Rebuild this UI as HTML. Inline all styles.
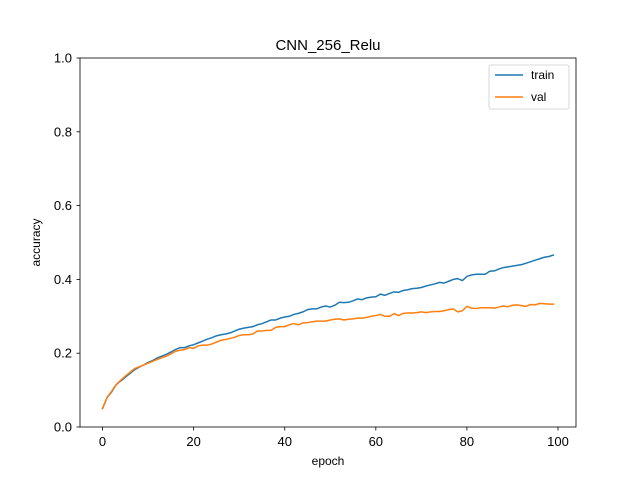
<!DOCTYPE html>
<html><head><meta charset="utf-8"><style>body{margin:0;background:#fff}svg{font-family:"Liberation Sans","DejaVu Sans",sans-serif}</style></head>
<body>
<svg id="chart" width="640" height="480" viewBox="0 0 640 480">
<rect x="0" y="0" width="640" height="480" fill="#fff"/>
<g id="plot"></g>
</svg>
<script>
const epochs = Array.from({length:100},(_,i)=>i);
const trainAcc = [0.05,0.08,0.095,0.115,0.125,0.135,0.145,0.155,0.162,0.168,0.175,0.18,0.187,0.192,0.197,0.203,0.21,0.215,0.215,0.22,0.223,0.228,0.233,0.238,0.242,0.247,0.25,0.252,0.255,0.26,0.265,0.268,0.27,0.272,0.277,0.28,0.285,0.29,0.29,0.295,0.298,0.3,0.305,0.308,0.312,0.318,0.32,0.32,0.325,0.328,0.325,0.33,0.338,0.337,0.338,0.342,0.347,0.345,0.35,0.352,0.353,0.36,0.357,0.362,0.366,0.365,0.37,0.372,0.375,0.376,0.378,0.382,0.385,0.388,0.392,0.39,0.395,0.4,0.402,0.397,0.408,0.412,0.414,0.414,0.414,0.422,0.423,0.428,0.432,0.434,0.436,0.438,0.44,0.444,0.448,0.452,0.456,0.46,0.462,0.466];
const valAcc = [0.05,0.08,0.097,0.115,0.127,0.138,0.148,0.158,0.163,0.168,0.173,0.178,0.183,0.188,0.192,0.198,0.205,0.208,0.21,0.215,0.213,0.22,0.222,0.222,0.225,0.23,0.235,0.237,0.24,0.243,0.248,0.25,0.25,0.252,0.26,0.26,0.262,0.262,0.27,0.272,0.272,0.277,0.28,0.277,0.282,0.283,0.285,0.287,0.287,0.287,0.29,0.292,0.293,0.29,0.292,0.293,0.295,0.295,0.297,0.3,0.302,0.305,0.3,0.3,0.307,0.302,0.308,0.309,0.309,0.31,0.312,0.31,0.312,0.313,0.313,0.315,0.318,0.32,0.312,0.315,0.327,0.322,0.321,0.323,0.323,0.323,0.322,0.325,0.328,0.326,0.33,0.331,0.329,0.327,0.332,0.331,0.335,0.334,0.333,0.333];
const xTicks = [0,20,40,60,80,100];
const yTicks = [0.0,0.2,0.4,0.6,0.8,1.0];

const L=80,R=576,T=58,B=427;
const xMin=-4.95,xMax=103.95;
const sx=v=>L+(v-xMin)/(xMax-xMin)*(R-L);
const sy=v=>B-v*(B-T);
const NS="http://www.w3.org/2000/svg";
const g=document.getElementById('plot');
function mk(tag,attrs,txt){const e=document.createElementNS(NS,tag);for(const k in attrs)e.setAttribute(k,attrs[k]);if(txt!==undefined)e.textContent=txt;g.appendChild(e);return e;}

xTicks.forEach(t=>{
  const l=mk('line',{x1:sx(t),x2:sx(t),y1:B,y2:B+3.5,stroke:'#000','stroke-width':0.8});
  
  
  const tx=mk('text',{x:sx(t),y:B+19,'text-anchor':'middle','font-size':'13px'},String(t));
  
  
});
yTicks.forEach(t=>{
  const l=mk('line',{x1:L-3.5,x2:L,y1:sy(t),y2:sy(t),stroke:'#000','stroke-width':0.8});
  
  
  const tx=mk('text',{x:L-8,y:sy(t)+4.5,'text-anchor':'end','font-size':'13px'},t.toFixed(1));
  
  
});

function series(vals,color,name){
  const d=vals.map((v,i)=>(i?'L':'M')+sx(epochs[i]).toFixed(2)+','+sy(v).toFixed(2)).join(' ');
  const p=mk('path',{d:d,fill:'none',stroke:color,'stroke-width':1.5,'stroke-linejoin':'round','stroke-linecap':'square'});
  
  
}
series(trainAcc,'#1f77b4','train-line');
series(valAcc,'#ff7f0e','val-line');

const frame=mk('rect',{x:L,y:T,width:R-L,height:B-T,fill:'none',stroke:'#000','stroke-width':0.8});



const title=mk('text',{x:(L+R)/2,y:50,'text-anchor':'middle','font-size':'15px'},'CNN_256_Relu');


const xl=mk('text',{x:(L+R)/2,y:465,'text-anchor':'middle','font-size':'12px'},'epoch');


const yl=mk('text',{x:40,y:(T+B)/2,'text-anchor':'middle','font-size':'12px',transform:'rotate(-90 40 '+((T+B)/2)+')'},'accuracy');



const lg=mk('rect',{x:489,y:65,width:80,height:44,rx:2,fill:'#fff',stroke:'#ccc','stroke-width':0.8});


[['train','#1f77b4',75],['val','#ff7f0e',97]].forEach(([n,c,y])=>{
  const l=mk('line',{x1:495,x2:523,y1:y,y2:y,stroke:c,'stroke-width':1.5});
  
  
  const t=mk('text',{x:531,y:y+4,'font-size':'12px'},n);
  
  
});
</script>
</body></html>
